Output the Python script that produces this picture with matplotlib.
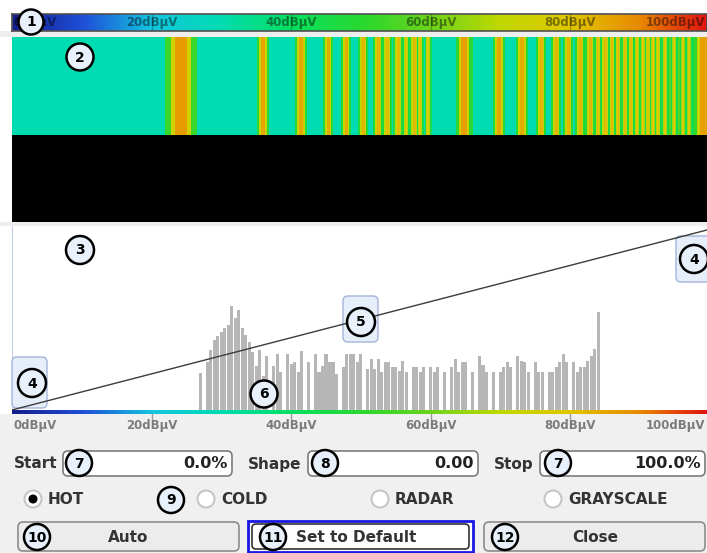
import numpy as np
import matplotlib
matplotlib.use("Agg")
import matplotlib.pyplot as plt
import matplotlib.transforms as mtransforms
from matplotlib.colors import LinearSegmentedColormap
from matplotlib.patches import FancyBboxPatch, Circle, Rectangle

W, H = 707, 553

# HOT colour table
hot_nodes = [0.0, 0.1, 0.2, 0.3, 0.4, 0.5, 0.6, 0.7, 0.8, 0.9, 1.0]
hot_colors = ["#141e8c", "#1f4fd8", "#14c6e0", "#00dcb0", "#08e060", "#28d830",
              "#6cd41c", "#c0d800", "#e0c800", "#e88a00", "#e01010"]
hot = LinearSegmentedColormap.from_list("hot_rs", list(zip(hot_nodes, hot_colors)))

# level scale
scale_db = [0, 20, 40, 60, 80, 100]
scale_labels = ["0dBµV", "20dBµV", "40dBµV", "60dBµV", "80dBµV", "100dBµV"]

# spectrogram (one frequency line, level in dB)
spec_span = 695
background_level = 30
green_zone = [648, 688]
green_level = 56
stripe_freq = [169, 251, 289, 316, 334, 351, 366, 375, 386, 394, 402, 408, 416,
               452, 487, 510, 529, 544, 556, 568, 578, 586, 593, 600, 606, 613,
               619, 625, 631, 636, 641, 646, 653, 662, 671, 677, 684, 691.5]
stripe_width = [12, 4, 4, 3, 3, 3, 3, 3, 3, 2, 3, 2, 2,
                6, 4, 4, 3, 3, 3, 3, 3, 2, 3, 2, 2, 2,
                2, 2, 2, 2, 2, 2, 2, 2, 2, 2, 2, 7]
stripe_level = [87, 85, 85, 84, 84, 83, 83, 82, 82, 80, 82, 80, 80,
                86, 85, 84, 83, 83, 83, 83, 83, 82, 82, 82, 82, 82,
                82, 80, 80, 80, 80, 80, 80, 78, 78, 78, 78, 86]

# histogram of levels (bins of 0.5 dB)
hist_level = np.arange(27.0, 84.5, 0.5)
hist_count = [37, 0, 48, 60, 70, 74, 78, 82, 85, 104, 92, 100, 82, 75, 68, 58, 44, 60, 34,
              54, 0, 44, 56, 38, 0, 56, 46, 48, 38, 59, 0, 48, 0, 56, 38, 44, 56, 48, 48, 36, 0, 43, 56, 56,
              56, 48, 56, 0, 41, 51, 41, 51, 38, 48, 48, 43, 43, 39, 49, 38,
              0, 43, 43, 38, 43, 0, 43, 38, 43, 0, 38, 0, 43, 51, 38, 48, 48, 0, 38, 0,
              54, 45, 38, 0, 38, 0, 38, 43, 48, 43, 0, 54, 49, 48, 38, 0, 48, 38, 38, 0,
              38, 38, 43, 48, 56, 48, 0, 48, 38, 43, 43, 49, 54, 61, 98]

# colour mapping curve (Start 0 %, Stop 100 %, Shape 0.00)
shape_db = [0, 100]
shape_pct = [0, 100]

DB_MAX = 99.6

fig = plt.figure(figsize=(W / 100, H / 100), dpi=100)
fig.patch.set_facecolor("white")


def px_axes(x0, y0, x1, y1, **kw):
    return fig.add_axes([x0 / W, 1 - y1 / H, (x1 - x0) / W, (y1 - y0) / H], **kw)


# background
bg = px_axes(0, 0, W, H, zorder=-5)
bg.set_xlim(0, W)
bg.set_ylim(H, 0)
bg.axis("off")
bg.add_patch(Rectangle((0, 414), W, H - 414, fc="#f0f0f0", ec="none"))
bg.add_patch(Rectangle((0, 31), W, 6, fc="#eeeeee", ec="none"))
bg.add_patch(Rectangle((0, 222), W, 4, fc="#eeeeee", ec="none"))

gradient = np.linspace(0, 100, 500).reshape(1, -1)

# 1: colour bar
ax_bar = px_axes(12, 14, W, 31)
ax_bar.imshow(gradient, cmap=hot, vmin=0, vmax=100, aspect="auto",
              extent=(0, 100, 0, 1))
ax_bar.set_xlim(0, DB_MAX)
ax_bar.set_ylim(0, 1)
ax_bar.set_xticks([])
ax_bar.set_yticks([])
for s in ax_bar.spines.values():
    s.set_color("#505050")
    s.set_linewidth(1.2)
for db, lab in zip(scale_db, scale_labels):
    if 0 < db < 100:
        ax_bar.axvline(db, color="black", alpha=0.25, lw=1)
    ha = "left" if db == 0 else ("right" if db == 100 else "center")
    x = 0.2 if db == 0 else (DB_MAX - 0.2 if db == 100 else db)
    ax_bar.text(x, 0.48, lab, ha=ha, va="center",
                fontsize=8.5, fontweight="bold", color="black", alpha=0.45)

# 2: spectrogram
ax_spec = px_axes(12, 37, W, 222)
ax_spec.set_facecolor("black")
ax_spec.set_xlim(0, spec_span)
ax_spec.set_ylim(0, 1)
ax_spec.axis("off")
ax_spec.add_patch(Rectangle((0, 0), spec_span, 1, fc="black", ec="none"))
ymin = (222 - 135) / 185
ax_spec.axvspan(0, spec_span, ymin=ymin, ymax=1, color=hot(background_level / 100), lw=0)
ax_spec.axvspan(green_zone[0], green_zone[1], ymin=ymin, ymax=1,
                color=hot(green_level / 100), lw=0)
for f, w, lv in zip(stripe_freq, stripe_width, stripe_level):
    outer = w * 2.5 + 2
    mid = w * 1.6 + 1
    ax_spec.axvspan(f - outer / 2, f + outer / 2, ymin=ymin, ymax=1,
                    color=hot((lv - 35) / 100), lw=0)
    ax_spec.axvspan(f - mid / 2, f + mid / 2, ymin=ymin, ymax=1,
                    color=hot((lv - 12) / 100), lw=0)
    ax_spec.axvspan(f - w / 2, f + w / 2, ymin=ymin, ymax=1,
                    color=hot(lv / 100), lw=0)

# 3: histogram
ax_hist = px_axes(12, 226, W, 410)
ax_hist.set_facecolor("white")
ax_hist.bar(hist_level, hist_count, width=0.44, color="#b6b6b6", lw=0)
ax_hist.set_xlim(0, DB_MAX)
ax_hist.set_ylim(0, 184)
ax_hist.set_xticks([])
ax_hist.set_yticks([])
for k, s in ax_hist.spines.items():
    s.set_visible(k == "left")
ax_hist.spines["left"].set_color("#c4cee8")

ax_line = ax_hist.twinx()
ax_line.set_ylim(0, 101.8)
ax_line.set_yticks([])
for s in ax_line.spines.values():
    s.set_visible(False)

# strip under histogram
ax_strip = px_axes(12, 410, W, 414)
ax_strip.imshow(gradient, cmap=hot, vmin=0, vmax=100, aspect="auto",
                extent=(0, 100, 0, 1))
ax_strip.set_xlim(0, DB_MAX)
ax_strip.axis("off")

# overlay for labels and widgets
ui = px_axes(0, 0, W, H, zorder=10)
ui.set_xlim(0, W)
ui.set_ylim(H, 0)
ui.axis("off")
ui.patch.set_alpha(0)

# marker boxes (behind the curve)
for x0, y0, x1, y1 in [(12, 357, 47, 408), (676, 236, 712, 282), (343, 296, 378, 342)]:
    ax_line.add_patch(FancyBboxPatch((x0, y0), x1 - x0, y1 - y0,
                                     boxstyle="round,pad=0,rounding_size=5",
                                     fc="#e6eef9", ec="#a4b4da", lw=1,
                                     transform=ui.transData, clip_on=False, zorder=1))
ax_line.plot(shape_db, shape_pct, color="#3c3c3c", lw=1, zorder=2)

# scale labels under histogram
trans = mtransforms.blended_transform_factory(ax_strip.transData, ui.transData)
for db, lab in zip(scale_db, scale_labels):
    if 0 < db < 100:
        ui.plot([db, db], [414, 419], color="#9a9a9a", lw=1, transform=trans)
    ha = "left" if db == 0 else ("right" if db == 100 else "center")
    x = 0.15 if db == 0 else (DB_MAX - 0.2 if db == 100 else db)
    ui.text(x, 425, lab, ha=ha, va="center",
            fontsize=8.5, fontweight="bold", color="#7c7c7c", transform=trans)

TXT = dict(fontsize=11, fontweight="bold", color="#333333", va="center")

# Start / Shape / Stop fields
for lab, lx, (x0, x1), val in [("Start", 14, (63, 232), "0.0%"),
                               ("Shape", 248, (308, 478), "0.00"),
                               ("Stop", 494, (540, 705), "100.0%")]:
    ui.text(lx, 464, lab, ha="left", **TXT)
    ui.add_patch(FancyBboxPatch((x0, 451), x1 - x0, 25,
                                boxstyle="round,pad=0,rounding_size=5",
                                fc="white", ec="#7c7c7c", lw=1.2))
    ui.text(x1 - 4, 464, val, ha="right", fontsize=11.5, color="#222222",
            fontweight="bold", va="center")

# radio buttons
for lab, cx, on in [("HOT", 33, True), ("COLD", 206, False),
                    ("RADAR", 380, False), ("GRAYSCALE", 553, False)]:
    ui.add_patch(Circle((cx, 499), 8.5, fc="white", ec="#c4c4c4", lw=1.4))
    if on:
        ui.add_patch(Circle((cx, 499), 4.5, fc="black", ec="none"))
    ui.text(cx + 15, 500, lab, ha="left", **TXT)

# buttons
ui.add_patch(FancyBboxPatch((18, 522), 221, 29, boxstyle="round,pad=0,rounding_size=5",
                            fc="#ececec", ec="#8c8c8c", lw=1.2))
ui.add_patch(Rectangle((248, 521), 225, 31, fc="white", ec="#1818e0", lw=2))
ui.add_patch(FancyBboxPatch((252, 524), 217, 25, boxstyle="round,pad=0,rounding_size=4",
                            fc="white", ec="#333333", lw=1.2))
ui.add_patch(FancyBboxPatch((484, 522), 221, 29, boxstyle="round,pad=0,rounding_size=5",
                            fc="#ececec", ec="#8c8c8c", lw=1.2))
ui.text(128, 538, "Auto", ha="center", **TXT)
ui.text(356, 538, "Set to Default", ha="center", **TXT)
ui.text(595, 538, "Close", ha="center", **TXT)

# numbered callouts
callouts = [("1", 31, 22, 12.5), ("2", 80, 57, 13.5), ("3", 80, 250, 14),
            ("4", 32, 383, 14), ("4", 694, 259, 14), ("5", 361, 322, 14),
            ("6", 264, 394, 13.5), ("7", 79, 463, 13), ("8", 325, 463, 13),
            ("7", 558, 463, 13), ("9", 171, 500, 13), ("10", 37, 537, 13),
            ("11", 273, 537, 13), ("12", 505, 537, 13)]
for num, cx, cy, r in callouts:
    ui.add_patch(Circle((cx, cy), r, fc="#e8f0fb", ec="black", lw=1.8, zorder=20))
    ui.text(cx, cy + 0.5, num, ha="center", va="center", fontsize=10,
            fontweight="bold", color="black", zorder=21)

fig.savefig("out.png", dpi=100, facecolor=fig.get_facecolor())
